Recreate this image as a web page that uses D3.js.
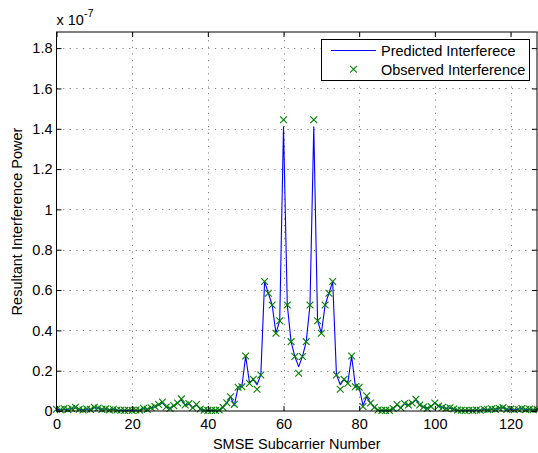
<!DOCTYPE html>
<html>
<head>
<meta charset="utf-8">
<script src="https://cdn.jsdelivr.net/npm/d3@7"></script>
<style>
  html, body { margin: 0; padding: 0; background: #fff; }
  svg { display: block; font-family: "Liberation Sans", Arial, Helvetica, sans-serif; }
</style>
</head>
<body>
<svg id="chart" width="538" height="453"></svg>
<script>
// Subcarrier indices 0..127
const subcarriers = d3.range(0, 128);

// Interference power per subcarrier (units of 1e-7)
const predicted = [
  0.008, 0.006, 0.010, 0.007, 0.012, 0.016, 0.009, 0.006, 0.010, 0.008,
  0.017, 0.013, 0.008, 0.011, 0.006, 0.009, 0.005, 0.004, 0.003, 0.004,
  0.003, 0.005, 0.004, 0.012, 0.008, 0.016, 0.022, 0.030, 0.041, 0.020,
  0.013, 0.025, 0.040, 0.056, 0.030, 0.036, 0.016, 0.030, 0.010, 0.004,
  0.003, 0.003, 0.003, 0.005, 0.018, 0.040, 0.071, 0.028, 0.118, 0.122,
  0.273, 0.140, 0.157, 0.130, 0.179, 0.642, 0.584, 0.526, 0.386, 0.448,
  1.410, 0.526, 0.344, 0.270, 0.220, 0.270, 0.344, 0.526, 1.410, 0.448,
  0.386, 0.526, 0.584, 0.642, 0.179, 0.130, 0.157, 0.140, 0.273, 0.122,
  0.118, 0.028, 0.071, 0.040, 0.018, 0.005, 0.003, 0.003, 0.003, 0.010,
  0.030, 0.016, 0.036, 0.030, 0.040, 0.056, 0.030, 0.020, 0.013, 0.022,
  0.041, 0.024, 0.018, 0.012, 0.016, 0.010, 0.005, 0.004, 0.003, 0.004,
  0.003, 0.005, 0.004, 0.009, 0.006, 0.011, 0.008, 0.013, 0.017, 0.008,
  0.010, 0.006, 0.009, 0.012, 0.007, 0.010, 0.006, 0.008
];

const observed = [
  0.009, 0.006, 0.012, 0.007, 0.012, 0.018, 0.009, 0.005, 0.010, 0.008,
  0.018, 0.015, 0.008, 0.011, 0.005, 0.009, 0.005, 0.004, 0.003, 0.004,
  0.003, 0.005, 0.004, 0.013, 0.008, 0.016, 0.022, 0.032, 0.045, 0.020,
  0.013, 0.026, 0.040, 0.060, 0.030, 0.037, 0.016, 0.032, 0.010, 0.004,
  0.003, 0.003, 0.003, 0.005, 0.018, 0.041, 0.071, 0.033, 0.118, 0.120,
  0.273, 0.137, 0.157, 0.108, 0.179, 0.642, 0.584, 0.526, 0.386, 0.448,
  1.445, 0.526, 0.344, 0.270, 0.187, 0.270, 0.344, 0.526, 1.445, 0.448,
  0.386, 0.526, 0.584, 0.642, 0.179, 0.108, 0.157, 0.137, 0.273, 0.120,
  0.118, 0.022, 0.075, 0.040, 0.018, 0.005, 0.003, 0.003, 0.003, 0.012,
  0.032, 0.016, 0.037, 0.030, 0.040, 0.058, 0.030, 0.020, 0.013, 0.022,
  0.040, 0.024, 0.018, 0.012, 0.016, 0.010, 0.005, 0.004, 0.003, 0.004,
  0.003, 0.005, 0.004, 0.009, 0.006, 0.011, 0.008, 0.014, 0.017, 0.008,
  0.010, 0.006, 0.009, 0.012, 0.007, 0.010, 0.006, 0.008
];

const xTicks = [0, 20, 40, 60, 80, 100, 120];
const xTickLabels = ["0", "20", "40", "60", "80", "100", "120"];
const yTicks = [0, 0.2, 0.4, 0.6, 0.8, 1.0, 1.2, 1.4, 1.6, 1.8];
const yTickLabels = ["0", "0.2", "0.4", "0.6", "0.8", "1", "1.2", "1.4", "1.6", "1.8"];

const seriesNames = ["Predicted Interferece", "Observed Interference"];
const xTitle = "SMSE Subcarrier Number";
const yTitle = "Resultant Interference Power";

const svg = d3.select("#chart");
const fontSize = 14.5;

const plot = { left: 56.5, right: 537, top: 32, bottom: 411 };

const x = d3.scaleLinear().domain([0, 127]).range([plot.left, plot.right]);
const y = d3.scaleLinear().domain([0, 1.88]).range([plot.bottom, plot.top]);

// dotted grid
const grid = svg.append("g").attr("stroke", "#7f7f7f").attr("stroke-width", 1)
  .attr("stroke-dasharray", "1.2,5.4").attr("fill", "none");
xTicks.slice(1).forEach(t => {
  grid.append("line").attr("x1", Math.round(x(t)) + 0.5).attr("x2", Math.round(x(t)) + 0.5)
    .attr("y1", plot.bottom).attr("y2", plot.top);
});
yTicks.slice(1).forEach(t => {
  grid.append("line").attr("y1", Math.round(y(t)) + 0.5).attr("y2", Math.round(y(t)) + 0.5)
    .attr("x1", plot.left).attr("x2", plot.right);
});

// predicted interference line
const line = d3.line().x((d, i) => x(subcarriers[i])).y(d => y(d));
svg.append("path").datum(predicted)
  .attr("d", line).attr("fill", "none")
  .attr("stroke", "#0000ff").attr("stroke-width", 1.1).attr("stroke-linejoin", "round");

// observed interference markers
const mk = 3.4;
const markers = svg.append("g").attr("stroke", "#008000").attr("stroke-width", 1.1);
observed.forEach((v, i) => {
  const cx = x(subcarriers[i]), cy = y(v);
  markers.append("path")
    .attr("d", `M${cx - mk},${cy - mk}L${cx + mk},${cy + mk}M${cx - mk},${cy + mk}L${cx + mk},${cy - mk}`);
});

// axes with inward ticks
function styleAxis(g) {
  g.selectAll(".domain").remove();
  g.selectAll(".tick line").attr("stroke", "#000");
  g.selectAll("text").attr("font-size", fontSize).attr("fill", "#000")
    .attr("font-family", "Liberation Sans, Arial, Helvetica, sans-serif");
}

svg.append("g").attr("transform", `translate(0,${plot.bottom})`)
  .call(d3.axisBottom(x).tickValues(xTicks).tickSize(-5).tickPadding(8)
    .tickFormat((d, i) => xTickLabels[i]))
  .call(styleAxis);
svg.append("g").attr("transform", `translate(0,${plot.top})`)
  .call(d3.axisTop(x).tickValues(xTicks).tickSize(-5).tickFormat(""))
  .call(styleAxis);
svg.append("g").attr("transform", `translate(${plot.left},0)`)
  .call(d3.axisLeft(y).tickValues(yTicks).tickSize(-5).tickPadding(4)
    .tickFormat((d, i) => yTickLabels[i]))
  .call(styleAxis);
svg.append("g").attr("transform", `translate(${plot.right},0)`)
  .call(d3.axisRight(y).tickValues(yTicks).tickSize(-5).tickFormat(""))
  .call(styleAxis);

// frame
svg.append("rect")
  .attr("x", plot.left).attr("y", plot.top)
  .attr("width", plot.right - plot.left).attr("height", plot.bottom - plot.top)
  .attr("fill", "none").attr("stroke", "#000").attr("stroke-width", 1);

// exponent label
const expo = svg.append("text").attr("x", 56.5).attr("y", 25)
  .attr("font-size", fontSize).attr("fill", "#000");
expo.append("tspan").text("x 10");
expo.append("tspan").attr("dy", -8).attr("font-size", 11).text("-7");

// axis titles
svg.append("text").attr("x", (plot.left + plot.right) / 2).attr("y", 449)
  .attr("text-anchor", "middle").attr("font-size", fontSize).text(xTitle);
svg.append("text")
  .attr("transform", `translate(22,${(plot.top + plot.bottom) / 2}) rotate(-90)`)
  .attr("text-anchor", "middle").attr("font-size", fontSize).text(yTitle);

// legend
const lg = svg.append("g");
lg.append("rect").attr("x", 321.5).attr("y", 39.5).attr("width", 208).attr("height", 41)
  .attr("fill", "#fff").attr("stroke", "#000").attr("stroke-width", 1);
lg.append("line").attr("x1", 331).attr("x2", 376).attr("y1", 50.5).attr("y2", 50.5)
  .attr("stroke", "#0000ff").attr("stroke-width", 1.1);
const lx = 353.5, ly = 69.3;
lg.append("path")
  .attr("d", `M${lx - mk},${ly - mk}L${lx + mk},${ly + mk}M${lx - mk},${ly + mk}L${lx + mk},${ly - mk}`)
  .attr("stroke", "#008000").attr("stroke-width", 1.1);
lg.append("text").attr("x", 381).attr("y", 55.5).attr("font-size", fontSize).text(seriesNames[0]);
lg.append("text").attr("x", 381).attr("y", 74.5).attr("font-size", fontSize).text(seriesNames[1]);
</script>
</body>
</html>
